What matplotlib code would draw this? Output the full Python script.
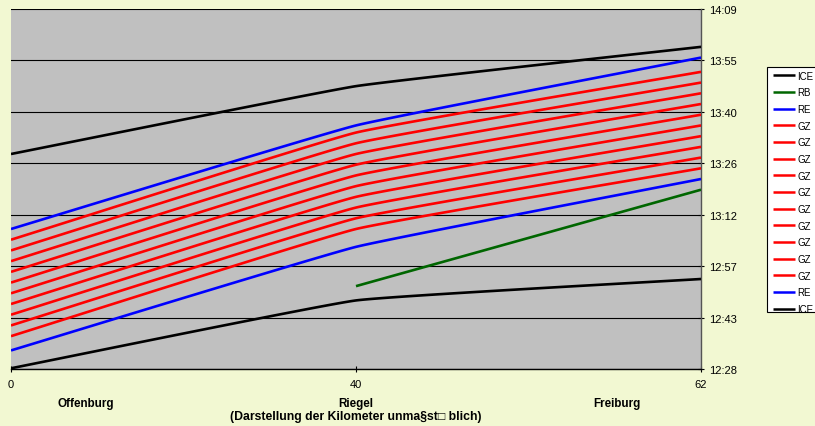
import numpy as np
import matplotlib
matplotlib.use("Agg")
import matplotlib.pyplot as plt
from matplotlib.ticker import FixedLocator, FuncFormatter
from matplotlib.patches import Rectangle

plt.rcParams['font.family'] = ['Liberation Sans', 'DejaVu Sans']

# ---- data ----
stations = ["Offenburg", "Riegel", "Freiburg"]
km_labels = ["0", "40", "62"]

ice_1 = ["13:29", "13:48", "13:59"]
rb_1 = [None, "12:52", "13:19"]
re_1 = ["13:08", "13:37", "13:56"]
gz_1 = ["13:05", "13:35", "13:52"]
gz_2 = ["13:02", "13:32", "13:49"]
gz_3 = ["12:59", "13:29", "13:46"]
gz_4 = ["12:56", "13:26", "13:43"]
gz_5 = ["12:53", "13:23", "13:40"]
gz_6 = ["12:50", "13:20", "13:37"]
gz_7 = ["12:47", "13:17", "13:34"]
gz_8 = ["12:44", "13:14", "13:31"]
gz_9 = ["12:41", "13:11", "13:28"]
gz_10 = ["12:38", "13:08", "13:25"]
re_2 = ["12:34", "13:03", "13:22"]
ice_2 = ["12:29", "12:48", "12:54"]

series_names = ["ICE", "RB", "RE", "GZ", "GZ", "GZ", "GZ", "GZ", "GZ", "GZ",
                "GZ", "GZ", "GZ", "RE", "ICE"]
series_values = [ice_1, rb_1, re_1, gz_1, gz_2, gz_3, gz_4, gz_5, gz_6, gz_7,
                 gz_8, gz_9, gz_10, re_2, ice_2]
type_colors = {"ICE": "#000000", "RB": "#006600", "RE": "#0000FF", "GZ": "#FF0000"}

# Excel-style time axis: 0.52 .. 0.59 day, major unit 0.01 day
y_min_day, y_max_day, y_step_day = 0.52, 0.59, 0.01


def to_min(s):
    h, m = s.split(":")
    return int(h) * 60 + int(m)


def smooth(xs, ys, k=0.05, n=60):
    """Lightly smoothed polyline: cubic Bezier with short tangents at inner points."""
    P = np.column_stack([xs, ys]).astype(float)
    if len(P) < 3:
        return P[:, 0], P[:, 1]
    out = []
    t = np.linspace(0, 1, n)[:, None]
    for i in range(len(P) - 1):
        p0, p3 = P[i], P[i + 1]
        c1 = p0 + (P[i + 1] - P[i - 1]) * k if i > 0 else p0 + (p3 - p0) * 2 * k
        c2 = p3 - (P[i + 2] - P[i]) * k if i + 2 < len(P) else p3 - (p3 - p0) * 2 * k
        seg = ((1 - t) ** 3) * p0 + 3 * ((1 - t) ** 2) * t * c1 + 3 * (1 - t) * t ** 2 * c2 + t ** 3 * p3
        out.append(seg if i == 0 else seg[1:])
    out = np.vstack(out)
    return out[:, 0], out[:, 1]


fig = plt.figure(figsize=(8.15, 4.27), dpi=100)
fig.patch.set_facecolor("#F2F8D2")
ax = fig.add_axes([11 / 815, 1 - 370 / 427, 690 / 815, 360 / 427])
ax.set_facecolor("#C0C0C0")

xpos = np.arange(len(stations))
for name, vals in zip(series_names, series_values):
    xs = [x for x, v in zip(xpos, vals) if v is not None]
    ys = [to_min(v) for v in vals if v is not None]
    sx, sy = smooth(xs, ys)
    ax.plot(sx, sy, color=type_colors[name], lw=1.9, label=name,
            solid_capstyle="butt", zorder=3)

ymin = y_min_day * 1440
ymax = y_max_day * 1440
yticks = [ymin + i * y_step_day * 1440 for i in range(int(round((y_max_day - y_min_day) / y_step_day)) + 1)]
ax.set_ylim(ymin, ymax)
ax.set_xlim(0, len(stations) - 1)

for yv in yticks:
    ax.axhline(yv, color="#000000", lw=0.8, zorder=1)

ax.yaxis.set_major_locator(FixedLocator(yticks))
ax.yaxis.set_major_formatter(FuncFormatter(lambda v, p: "%d:%02d" % (int(v + 1e-6) // 60, int(v + 1e-6) % 60)))
ax.yaxis.tick_right()
ax.set_xticks(xpos)
ax.set_xticklabels(km_labels)
ax.tick_params(axis="y", direction="inout", length=5, width=0.8, labelsize=8, pad=3, colors="#000000")
ax.tick_params(axis="x", direction="inout", length=5, width=0.8, labelsize=8, pad=5)

for s in ["left", "top"]:
    ax.spines[s].set_visible(False)
ax.spines["right"].set_color("#555555")
ax.spines["right"].set_linewidth(1.0)
ax.spines["bottom"].set_color("#000000")
ax.spines["bottom"].set_linewidth(1.0)

# station names below the km axis
station_x_px = [86, 356, 617]
for name, xp in zip(stations, station_x_px):
    fig.text(xp / 815, 1 - 404 / 427, name, ha="center", va="center",
             fontsize=8.4, fontweight="bold")
fig.text(356 / 815, 1 - 417 / 427, "(Darstellung der Kilometer unma§st\u25a1 blich)",
         ha="center", va="center", fontsize=8.8, fontweight="bold",
         family=['Liberation Sans', 'DejaVu Sans'])

# legend box (extends past the right edge, as in the original)
fig.patches.append(Rectangle((767 / 815, 1 - 313 / 427), 80 / 815, 245 / 427,
                             transform=fig.transFigure, facecolor="#FFFFFF",
                             edgecolor="#000000", lw=0.8, zorder=0))
leg = fig.legend(loc="upper left", bbox_to_anchor=(767 / 815, 1 - 66 / 427),
                 bbox_transform=fig.transFigure, borderaxespad=0, fontsize=7,
                 frameon=False, handlelength=2.3, handletextpad=0.2,
                 labelspacing=0.685, borderpad=0.6)
for h in leg.get_lines():
    h.set_linewidth(1.8)

fig.savefig("out.png", dpi=100, facecolor=fig.get_facecolor())
